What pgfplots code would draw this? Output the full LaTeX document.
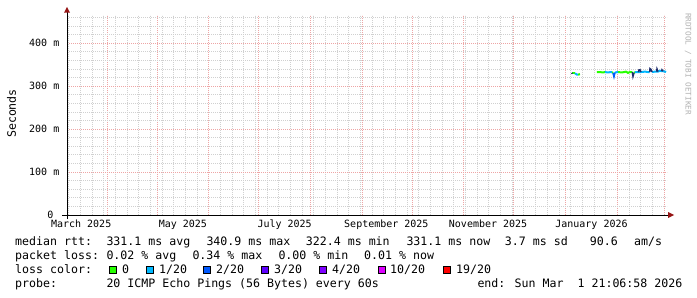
\documentclass[border=0pt]{standalone}
\usepackage{pgfplots}
\pgfplotsset{compat=1.18}
\usepackage{fontspec}
\setmainfont{DejaVu Sans Mono}
\setmonofont{DejaVu Sans Mono}
\definecolor{l0}{HTML}{26FF00}
\definecolor{l1}{HTML}{00B8FF}
\definecolor{l2}{HTML}{0059FF}
\definecolor{l3}{HTML}{5E00FF}
\definecolor{l4}{HTML}{7E00FF}
\definecolor{l10}{HTML}{DD00FF}
\definecolor{l19}{HTML}{FF0000}
\definecolor{gminor}{RGB}{208,208,208}
\definecolor{gmajor}{RGB}{238,165,165}
\definecolor{arrowred}{RGB}{150,20,20}
\definecolor{darkspike}{RGB}{30,45,110}
\newcommand{\legfont}{\fontsize{11.6bp}{14bp}\selectfont}
\newcommand{\axfont}{\fontsize{10bp}{12bp}\selectfont}
\begin{document}
\begin{tikzpicture}[x=1bp,y=1bp]
\path[use as bounding box, fill=white] (0,0) rectangle (697,297);
\begin{axis}[
  at={(67bp,82bp)}, anchor=south west,
  scale only axis, width=600bp, height=200bp,
  xmin=7.0, xmax=366.8, ymin=0, ymax=465.9,
  axis line style={draw=none},
  major tick length=0pt, minor tick length=0pt,
  xtick={31,61,92,122,153,184,214,245,275,306,337,365},
  xticklabels={,,,,,,,,,,,},
  minor xtick={1,8,...,365},
  extra x ticks={15.5,76.5,137.5,198.5,259.5,321.5},
  extra x tick labels={March 2025,May 2025,July 2025,September 2025,November 2025,January 2026},
  extra x tick style={xmajorgrids=false, major tick length=0pt},
  ytick={0,100,200,300,400},
  yticklabels={0~~,100 m,200 m,300 m,400 m},
  minor ytick={20,40,...,460},
  xmajorgrids=true, xminorgrids=true, ymajorgrids=true, yminorgrids=true,
  minor grid style={gminor, dash pattern=on 1bp off 1bp, line width=0.9bp},
  major grid style={gmajor, dash pattern=on 1bp off 1bp, line width=0.9bp},
  xticklabel style={font=\axfont, inner sep=0pt, anchor=base},
  xticklabel shift=12.7bp,
  yticklabel style={font=\axfont, inner sep=0pt, anchor=east},
  yticklabel shift=7.5bp,
]
% loss 0 (green)
\addplot[l0, line width=2bp] coordinates {(309.8,330)(311.6,330)};
\addplot[l0, line width=2bp] coordinates {(313.4,327)(314.6,328)};
\addplot[l0, line width=2bp] coordinates {(324.8,333)(326.6,333)(328.4,332)(329.6,333)};
\addplot[l0, line width=2bp] coordinates {(333.8,333)(334.4,331)};
\addplot[l0, line width=2bp] coordinates {(337.4,333)(339.8,332)(342.2,334)(343.4,331)(344.6,333)(346.0,333)};
\addplot[l0, line width=2bp] coordinates {(347.0,331)(347.6,333)};
% loss 1/20 (cyan)
\addplot[l1, line width=2bp] coordinates {(311.6,330)(312.8,327)(313.4,327)};
\addplot[l1, line width=2bp] coordinates {(329.6,333)(331.4,332)(333.2,333)(333.8,333)};
\addplot[l1, line width=2bp] coordinates {(335.6,332)(337.4,333)};
\addplot[l1, line width=2bp] coordinates {(347.6,333)(349.6,333)(351.2,333)(353.6,334)(355.4,333)(356.4,333)};
\addplot[l1, line width=2bp] coordinates {(357.8,333)(359.6,334)(360.6,334)(361.4,334)(362.6,336)(363.6,335)(364.4,335)(365.6,334)(366.2,333)};
% spikes
\addplot[darkspike, line width=1.5bp] coordinates {(309.6,331)(310.0,329)};
\addplot[l2, line width=1.5bp] coordinates {(334.4,331)(335.0,322)(335.6,332)};
\addplot[darkspike, line width=1.5bp] coordinates {(346.0,333)(346.4,323)(347.0,331)};
\addplot[darkspike, line width=1.5bp] coordinates {(349.6,333)(350.0,338)(350.6,338)(351.2,333)};
\addplot[darkspike, line width=1.5bp] coordinates {(356.4,333)(356.6,341)(357.2,339)(357.8,333)};
\addplot[darkspike, line width=1.5bp] coordinates {(360.6,334)(360.8,340)(361.4,334)};
\addplot[darkspike, line width=1.5bp] coordinates {(363.6,335)(363.8,338)(364.4,335)};
\end{axis}
% axis lines and arrows
\draw[black, line width=1bp] (62,82) -- (669,82);
\draw[black, line width=1bp] (67,78) -- (67,285);
\fill[arrowred] (668,85) -- (668,79) -- (674,82) -- cycle;
\fill[arrowred] (64,284.3) -- (70,284.3) -- (67,290) -- cycle;
% labels
\node[rotate=90, inner sep=0pt, font=\legfont] at (11.5,183.5) {Seconds};
\node[rotate=-90, inner sep=0pt, font=\fontsize{7.7bp}{9bp}\selectfont, text=gray!60] at (688,233) {RRDTOOL / TOBI OETIKER};
\begin{scope}[every node/.style={anchor=base west, inner sep=0pt, font=\legfont}]
\node at (15,51.5) {median rtt:};
\node at (106.3,51.5) {331.1 ms avg};
\node at (206.3,51.5) {340.9 ms max};
\node at (305.7,51.5) {322.4 ms min};
\node at (406.3,51.5) {331.1 ms now};
\node at (504.7,51.5) {3.7 ms sd};
\node at (589.7,51.5) {90.6};
\node at (634,51.5) {am/s};
\node at (15,37.5) {packet loss:};
\node at (106.3,37.5) {0.02 \% avg};
\node at (192.3,37.5) {0.34 \% max};
\node at (278.3,37.5) {0.00 \% min};
\node at (364,37.5) {0.01 \% now};
\node at (15,23.5) {loss color:};
\node at (122,23.5) {0};
\node at (159,23.5) {1/20};
\node at (216,23.5) {2/20};
\node at (274,23.5) {3/20};
\node at (332,23.5) {4/20};
\node at (390,23.5) {10/20};
\node at (456,23.5) {19/20};
\node at (15,10) {probe:};
\node at (106.3,10) {20 ICMP Echo Pings (56 Bytes) every 60s};
\node at (477.3,10) {end: Sun Mar~~1 21:06:58 2026};
\end{scope}
\draw[line width=1bp, fill=l0] (109.5,24) rectangle (116.5,31);
\draw[line width=1bp, fill=l1] (146.5,24) rectangle (153.5,31);
\draw[line width=1bp, fill=l2] (203.5,24) rectangle (210.5,31);
\draw[line width=1bp, fill=l3] (261.5,24) rectangle (268.5,31);
\draw[line width=1bp, fill=l4] (319.5,24) rectangle (326.5,31);
\draw[line width=1bp, fill=l10] (378.5,24) rectangle (385.5,31);
\draw[line width=1bp, fill=l19] (443.5,24) rectangle (450.5,31);
\end{tikzpicture}
\end{document}
